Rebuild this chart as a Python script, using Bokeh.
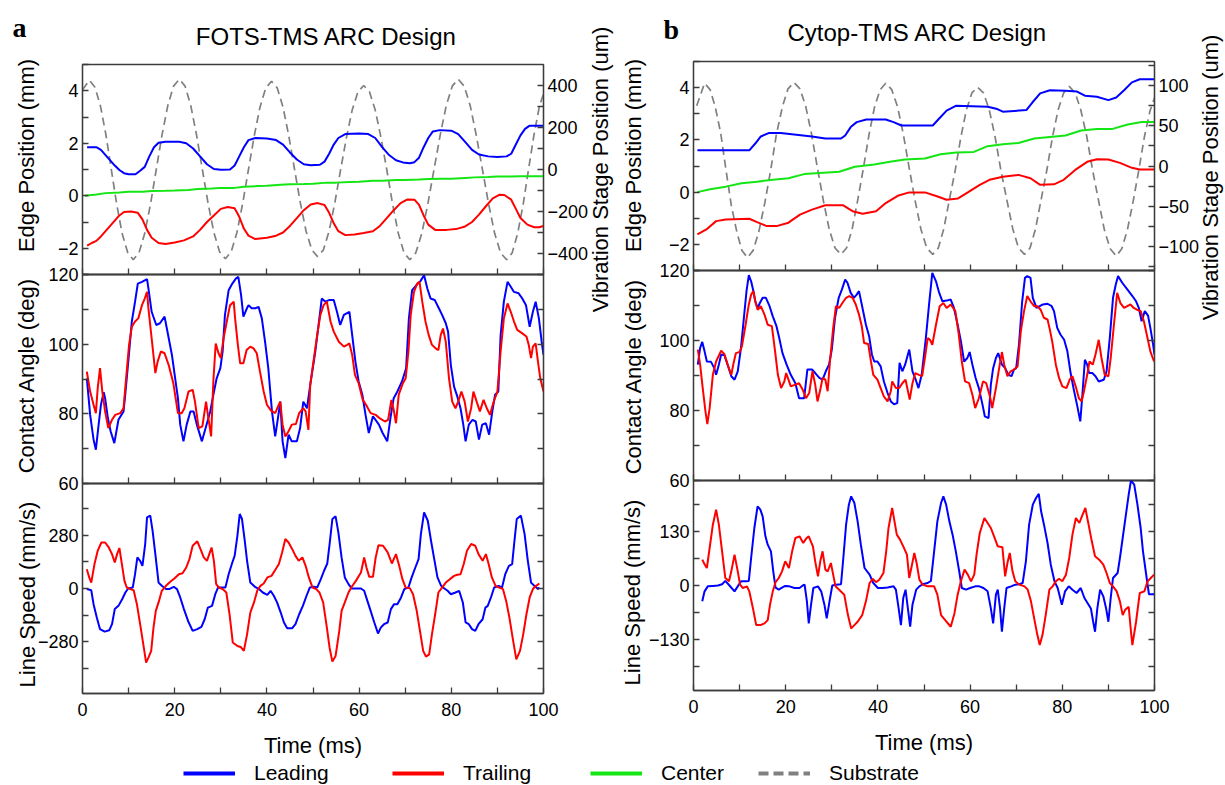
from bokeh.plotting import figure
from bokeh.models import Range1d, LinearAxis, FixedTicker, Label, Legend, LegendItem
from bokeh.layouts import row, column
from bokeh.embed import file_html
from bokeh.resources import INLINE

# ---------------- data ----------------
# Panel a, top: edge positions (mm) and substrate position (um)
a_lead_t = [1, 3, 4, 5, 6, 7, 8, 9, 10, 11.5, 12.5, 13.5, 14.5, 15.5, 16.5, 18, 21, 22.5, 24, 25.5, 27, 28.5, 30, 32, 33, 34, 35, 36, 37.5, 40, 42, 43.5, 45, 46.5, 48, 49.5, 51.5, 52.5, 53.5, 54.5, 55.5, 57, 60, 62, 63.5, 65, 66.5, 68, 69.5, 71, 72, 73, 74, 75, 76, 77.5, 80, 81.5, 83, 84.5, 86, 88, 90, 92, 93, 94, 95, 96, 97, 100]
a_lead_v = [1.85, 1.85, 1.75, 1.55, 1.35, 1.15, 0.98, 0.86, 0.82, 0.82, 0.95, 1.1, 1.5, 1.85, 2.02, 2.06, 2.06, 2.0, 1.8, 1.5, 1.2, 1.02, 0.99, 1.0, 1.15, 1.5, 1.85, 2.12, 2.2, 2.18, 2.12, 1.95, 1.65, 1.38, 1.2, 1.16, 1.18, 1.3, 1.6, 1.95, 2.2, 2.35, 2.37, 2.35, 2.2, 1.85, 1.55, 1.35, 1.27, 1.24, 1.28, 1.45, 1.85, 2.2, 2.45, 2.5, 2.48, 2.35, 2.05, 1.75, 1.57, 1.5, 1.48, 1.5, 1.6, 1.95, 2.3, 2.55, 2.67, 2.67]
a_trail_t = [1, 2, 3, 4, 5, 6, 7, 8, 9, 10.5, 12, 13, 14, 15, 16.5, 18, 20, 22, 24, 25.5, 27, 28.5, 30, 31.5, 33, 34, 35, 36, 37.5, 40, 42, 43.5, 45, 46.5, 48, 49.5, 51, 52.5, 53.5, 54.5, 55.5, 57, 59, 61, 63, 64.5, 66, 67.5, 69, 70.5, 72, 73, 74, 75, 76.5, 79, 81, 83, 84.5, 86, 87.5, 89, 90.5, 91.5, 93, 94, 95, 96.5, 98, 99, 100]
a_trail_v = [-1.9, -1.8, -1.72, -1.55, -1.35, -1.15, -0.95, -0.75, -0.62, -0.6, -0.65, -0.9, -1.3, -1.6, -1.8, -1.84, -1.78, -1.7, -1.55, -1.3, -1.0, -0.75, -0.5, -0.43, -0.48, -0.8, -1.25, -1.52, -1.65, -1.6, -1.52, -1.4, -1.15, -0.85, -0.55, -0.33, -0.28, -0.35, -0.65, -1.05, -1.35, -1.5, -1.48, -1.42, -1.35, -1.15, -0.85, -0.55, -0.28, -0.14, -0.15, -0.35, -0.75, -1.1, -1.3, -1.3, -1.27, -1.17, -1.0, -0.72, -0.4, -0.1, 0.04, 0.03, -0.15, -0.5, -0.85, -1.1, -1.2, -1.2, -1.15]
a_center_t = [0.5, 3, 5, 8, 10, 13, 15, 18, 20, 23, 25, 28, 30, 33, 35, 38, 40, 43, 45, 48, 50, 53, 55, 58, 60, 63, 65, 68, 70, 73, 75, 78, 80, 83, 85, 88, 90, 93, 95, 98, 100]
a_center_v = [0.0, 0.05, 0.1, 0.12, 0.15, 0.15, 0.18, 0.19, 0.2, 0.22, 0.26, 0.28, 0.3, 0.3, 0.34, 0.37, 0.38, 0.42, 0.44, 0.45, 0.46, 0.5, 0.5, 0.52, 0.53, 0.57, 0.57, 0.6, 0.6, 0.62, 0.64, 0.65, 0.65, 0.68, 0.7, 0.71, 0.73, 0.73, 0.74, 0.74, 0.74]
a_sub_t = [0, 1.5, 2.7, 3.9, 5.1, 6.25, 7.4, 8.6, 9.8, 11, 12.25, 13.5, 14.75, 16, 17.25, 18.5, 19.75, 21, 22.25, 23.5, 24.75, 26, 27.25, 28.5, 29.75, 31, 32.25, 33.5, 34.75, 36, 37.25, 38.5, 39.75, 41, 42.25, 43.5, 44.75, 46, 47.25, 48.5, 49.75, 51, 52.25, 53.5, 54.75, 56, 57.25, 58.5, 59.75, 61, 62.25, 63.5, 64.75, 66, 67.25, 68.5, 69.75, 71, 72.3, 73.6, 74.9, 76.25, 77.6, 78.9, 80.2, 81.5, 82.8, 84.1, 85.4, 86.75, 88.1, 89.4, 90.7, 92, 93.2, 94.4, 95.6, 96.75, 97.9, 99.1, 100]
a_sub_v = [380, 425, 392, 302, 163, 0, -163, -305, -395, -430, -397, -304, -165, 0, 165, 304, 397, 430, 397, 303, 163, 0, -162, -300, -393, -425, -392, -300, -161, 0, 160, 297, 388, 420, 388, 297, 160, 0, -158, -294, -383, -415, -383, -293, -157, 0, 152, 283, 370, 400, 370, 283, 152, 0, -163, -304, -397, -430, -397, -304, -165, 0, 165, 304, 397, 430, 397, 304, 165, 0, -165, -304, -397, -430, -397, -304, -165, 0, 160, 300, 360]

# Panel a, middle: contact angle (deg)
a_ca_lead_t = [0.94, 1.66, 2.4, 2.9, 3.5, 4.0, 4.6, 4.9, 5.5, 6.1, 6.9, 7.8, 8.9, 9.3, 10.0, 10.7, 11.4, 12.0, 12.9, 14.0, 14.3, 15.0, 16.0, 16.8, 17.8, 18.3, 19.4, 20.1, 20.7, 21.2, 21.9, 22.6, 23.4, 24.1, 24.8, 25.9, 27.0, 27.7, 28.4, 29.1, 29.9, 30.4, 30.9, 31.7, 32.5, 33.3, 33.8, 34.4, 34.9, 35.5, 36.0, 36.7, 37.5, 38.2, 38.9, 39.6, 40.3, 41.1, 41.8, 42.4, 42.9, 43.4, 44.0, 44.7, 45.4, 46.5, 47.2, 47.9, 48.7, 49.4, 50.5, 51.2, 51.9, 52.7, 53.6, 54.5, 55.2, 55.9, 56.7, 57.9, 58.5, 59.2, 59.9, 60.7, 61.4, 62.1, 63.0, 64.3, 65.1, 66.1, 66.8, 67.5, 68.3, 69.3, 70.2, 70.8, 71.5, 72.4, 73.3, 74.1, 74.8, 75.5, 76.4, 77.3, 78.0, 78.8, 79.3, 79.9, 80.6, 81.3, 82.0, 82.6, 83.1, 83.8, 84.6, 85.3, 86.0, 86.7, 87.5, 88.2, 88.9, 89.5, 90.2, 90.7, 91.4, 92.2, 92.9, 93.6, 94.6, 95.4, 96.2, 97.0, 97.7, 98.3, 99.0, 99.6, 100.0]
a_ca_lead_v = [90.2, 79.7, 72.6, 69.7, 76.9, 82.6, 86.2, 84.5, 78.8, 75.0, 71.6, 78.3, 80.7, 85.9, 96.0, 106.5, 112.2, 117.4, 117.9, 118.7, 116.0, 109.3, 105.5, 106.0, 107.9, 104.5, 96.9, 90.2, 84.5, 76.9, 72.1, 76.9, 80.7, 80.7, 76.9, 72.1, 77.3, 80.7, 85.5, 90.2, 93.1, 97.9, 108.4, 115.5, 117.4, 118.9, 119.3, 114.1, 107.9, 109.8, 111.2, 110.3, 110.3, 110.7, 107.4, 100.7, 93.1, 80.7, 73.5, 78.8, 83.5, 72.1, 67.3, 74.0, 72.1, 72.1, 75.9, 83.5, 81.6, 88.3, 97.9, 105.5, 113.1, 112.2, 112.7, 112.7, 109.3, 105.5, 108.4, 109.3, 102.6, 95.0, 89.3, 85.5, 79.7, 74.5, 79.3, 76.9, 74.5, 72.1, 78.8, 84.5, 86.4, 89.3, 93.1, 107.4, 115.5, 116.9, 118.1, 119.8, 116.0, 113.1, 112.7, 110.3, 108.4, 106.0, 103.6, 94.0, 87.8, 85.0, 81.6, 76.9, 72.1, 76.9, 78.3, 77.8, 72.6, 76.9, 77.3, 74.0, 80.7, 85.5, 86.4, 102.6, 112.2, 117.9, 116.5, 115.0, 114.6, 113.1, 111.2, 105.0, 109.3, 112.2, 107.4, 100.7, 96.9]
a_ca_trail_t = [0.94, 1.66, 2.4, 2.9, 3.3, 3.8, 4.3, 4.9, 5.6, 6.4, 7.1, 8.2, 8.9, 9.4, 10.1, 10.7, 11.4, 12.1, 12.9, 13.5, 14.0, 14.3, 15.0, 15.8, 16.3, 17.0, 17.8, 18.7, 19.7, 20.7, 21.5, 22.1, 23.0, 23.9, 24.4, 25.2, 26.0, 26.8, 27.2, 27.9, 28.4, 28.9, 29.5, 30.0, 30.6, 31.3, 32.0, 32.8, 33.1, 33.7, 34.2, 34.9, 35.6, 36.4, 37.1, 37.8, 38.5, 39.3, 40.0, 40.9, 41.8, 42.4, 42.9, 43.4, 44.0, 44.7, 45.4, 46.3, 47.0, 47.9, 48.4, 49.0, 49.4, 50.1, 50.9, 51.6, 52.3, 53.0, 53.8, 54.5, 55.6, 56.7, 57.4, 57.9, 58.5, 59.1, 59.9, 60.8, 61.5, 62.5, 63.6, 64.6, 65.6, 66.3, 67.0, 67.5, 68.0, 68.6, 69.5, 70.1, 70.7, 71.2, 71.9, 72.6, 73.1, 73.7, 74.4, 75.1, 75.8, 76.6, 77.2, 77.7, 78.2, 78.8, 79.5, 80.2, 80.9, 81.5, 82.2, 82.9, 83.6, 84.3, 84.8, 85.5, 86.2, 87.0, 87.7, 88.4, 89.1, 90.0, 90.7, 91.4, 92.2, 92.9, 93.6, 94.3, 95.4, 96.3, 96.8, 97.3, 97.7, 98.3, 98.8, 99.3, 100.0]
a_ca_trail_v = [92.1, 86.4, 82.6, 80.2, 87.4, 93.1, 86.4, 80.7, 75.9, 78.3, 79.7, 80.2, 81.6, 89.3, 99.8, 105.0, 106.5, 107.4, 111.2, 113.1, 115.0, 110.3, 101.7, 91.7, 95.0, 97.9, 97.4, 94.0, 88.8, 80.2, 80.2, 81.6, 86.4, 86.9, 83.5, 75.9, 76.4, 83.5, 79.7, 73.5, 89.8, 100.2, 97.4, 96.0, 101.7, 106.5, 111.2, 112.2, 107.4, 99.8, 94.5, 94.5, 98.3, 99.3, 98.8, 97.4, 92.1, 86.4, 82.6, 80.9, 80.2, 82.1, 83.5, 76.9, 73.5, 75.0, 76.9, 77.1, 80.2, 81.6, 80.7, 75.4, 88.3, 95.0, 102.6, 108.4, 111.2, 112.2, 106.5, 103.6, 100.7, 99.3, 99.8, 100.2, 96.9, 91.2, 88.8, 84.0, 82.6, 80.2, 79.7, 78.6, 77.8, 78.3, 84.0, 81.2, 77.3, 85.5, 88.8, 90.2, 97.9, 108.4, 115.0, 117.4, 117.9, 112.2, 106.5, 102.6, 99.8, 98.8, 98.3, 102.6, 104.5, 100.7, 90.2, 83.5, 81.6, 83.5, 86.4, 83.5, 77.8, 81.6, 86.4, 83.5, 80.7, 84.0, 81.6, 79.7, 83.1, 86.4, 97.9, 107.4, 111.7, 109.3, 106.5, 104.1, 103.1, 102.2, 99.8, 96.0, 99.3, 100.2, 95.0, 90.2, 86.4]

# Panel a, bottom: line speed (mm/s)
a_ls_lead_t = [0.94, 1.9, 2.4, 3.1, 3.8, 4.8, 5.8, 6.4, 7.0, 7.8, 8.6, 9.3, 9.9, 10.9, 11.4, 11.9, 12.5, 13.0, 13.6, 14.0, 14.7, 15.2, 15.8, 16.5, 17.2, 18.1, 18.8, 19.8, 20.5, 21.2, 22.0, 22.9, 23.9, 24.9, 25.8, 26.5, 27.2, 28.1, 28.8, 29.4, 30.1, 31.0, 31.7, 32.5, 33.0, 33.6, 34.1, 34.6, 35.2, 35.7, 36.4, 37.4, 38.3, 39.1, 40.1, 40.8, 41.5, 42.2, 43.0, 43.7, 44.4, 45.5, 46.2, 47.0, 47.8, 48.6, 49.3, 50.2, 50.9, 51.7, 52.4, 53.1, 53.6, 54.2, 54.9, 55.5, 56.2, 56.9, 57.7, 58.4, 59.3, 60.4, 61.1, 61.8, 62.5, 63.3, 64.1, 64.7, 65.4, 66.2, 66.9, 67.6, 68.3, 69.1, 69.8, 70.7, 71.4, 72.2, 72.9, 73.4, 74.1, 74.9, 75.6, 76.3, 77.0, 77.8, 78.5, 79.2, 79.9, 80.9, 81.7, 82.5, 83.1, 83.8, 84.5, 85.2, 85.9, 86.8, 87.4, 87.9, 88.6, 89.3, 90.3, 91.0, 91.7, 92.5, 93.2, 93.7, 94.2, 95.1, 95.9, 96.6, 97.3, 98.0, 98.8, 99.1]
a_ls_lead_v = [-3, -9, -82, -152, -213, -226, -219, -187, -108, -91, -56, -21, 0, 5, 75, 163, 145, 119, 233, 373, 382, 303, 180, 31, 14, -3, -3, 9, -3, -47, -108, -170, -222, -213, -201, -161, -100, -91, -30, 5, 5, 5, 75, 136, 171, 276, 390, 364, 250, 145, 31, 9, -3, -21, -33, -12, -38, -73, -126, -178, -208, -208, -187, -135, -91, -38, 5, 9, 5, 49, 93, 131, 233, 364, 378, 294, 163, 58, 23, 0, 0, 0, -12, -65, -117, -178, -236, -205, -187, -178, -108, -82, -82, -47, -3, 5, 58, 110, 154, 285, 399, 355, 250, 154, 58, 14, 0, -12, -30, -21, -12, -73, -178, -187, -213, -222, -187, -161, -100, -91, -47, 5, 14, 5, 75, 119, 128, 250, 364, 382, 285, 145, 31, 14, -3, 5]
a_ls_trail_t = [0.94, 1.45, 1.9, 2.6, 3.3, 4.1, 4.9, 5.7, 6.4, 7.0, 7.5, 8.0, 8.6, 9.1, 9.6, 10.4, 11.1, 11.8, 12.5, 13.3, 13.8, 14.3, 14.9, 15.4, 15.9, 16.5, 17.2, 18.1, 19.1, 20.0, 20.9, 21.7, 22.5, 23.2, 23.9, 24.9, 25.6, 26.3, 27.0, 27.5, 28.0, 28.5, 29.0, 29.6, 30.4, 31.2, 31.9, 32.6, 33.6, 34.3, 35.0, 35.7, 36.4, 37.2, 37.9, 38.6, 39.3, 40.1, 41.0, 41.9, 42.6, 43.3, 44.0, 44.7, 45.5, 46.2, 46.9, 47.7, 48.4, 49.1, 49.9, 50.7, 51.4, 52.2, 52.9, 53.6, 54.2, 54.9, 55.7, 56.2, 56.9, 57.7, 58.4, 59.3, 60.4, 61.1, 61.6, 62.2, 63.0, 63.6, 64.2, 65.2, 66.2, 67.1, 68.0, 68.7, 69.4, 70.1, 71.0, 71.7, 72.5, 73.2, 73.9, 74.5, 75.2, 75.8, 76.5, 77.2, 78.0, 78.8, 79.7, 80.6, 81.3, 82.0, 82.7, 83.4, 84.3, 85.2, 85.9, 86.8, 87.5, 88.1, 88.8, 89.6, 90.4, 91.2, 91.9, 92.6, 93.3, 94.1, 94.9, 95.6, 96.3, 97.0, 97.7, 98.4, 99.1]
a_ls_trail_v = [101, 58, 31, 128, 198, 241, 241, 215, 180, 136, 180, 212, 119, 40, 5, -3, -9, -82, -187, -310, -388, -362, -327, -205, -117, -73, -12, 14, 37, 54, 75, 80, 110, 154, 224, 247, 206, 163, 145, 180, 215, 145, 23, 5, -3, -21, -135, -283, -301, -306, -327, -240, -126, -73, -12, 14, 26, 58, 66, 101, 128, 189, 259, 241, 206, 171, 145, 163, 119, 58, 5, -3, -21, -73, -187, -310, -383, -353, -222, -117, -73, -21, 9, 40, 84, 163, 110, 61, 61, 163, 227, 224, 189, 131, 180, 119, 49, 5, 2, -30, -117, -222, -327, -357, -345, -240, -135, -21, 5, 31, 49, 66, 72, 75, 128, 198, 233, 224, 180, 145, 180, 128, 58, 14, 5, -3, -65, -152, -257, -371, -327, -240, -135, -47, -3, 14, 26]

# Panel b, top
b_lead_t = [0.85, 12.1, 13.4, 14.6, 16.3, 18.9, 22.3, 25.7, 28.6, 32.0, 32.9, 34.1, 35.4, 37.5, 41.7, 43.4, 45.1, 51.9, 53.2, 54.9, 57.0, 63.8, 65.9, 67.1, 72.2, 73.5, 75.2, 77.3, 80.7, 83.2, 84.9, 87.5, 90.0, 91.7, 93.4, 95.1, 96.8, 100]
b_lead_v = [1.6, 1.6, 1.86, 2.13, 2.26, 2.26, 2.2, 2.13, 2.05, 2.05, 2.17, 2.49, 2.68, 2.78, 2.78, 2.68, 2.55, 2.55, 2.8, 3.12, 3.31, 3.27, 3.18, 3.08, 3.14, 3.43, 3.78, 3.9, 3.88, 3.85, 3.69, 3.65, 3.52, 3.62, 3.9, 4.2, 4.32, 4.32]
b_trail_t = [0.85, 2.8, 4.9, 7.0, 12.1, 13.8, 15.9, 18.0, 20.6, 23.1, 25.7, 28.6, 32.4, 34.5, 36.7, 39.6, 41.7, 44.3, 46.8, 50.2, 52.8, 54.9, 57.4, 59.5, 62.1, 64.2, 67.1, 70.5, 73.1, 75.2, 78.2, 80.3, 82.8, 85.4, 87.5, 90.0, 92.5, 95.1, 96.8, 100]
b_trail_v = [-1.62, -1.43, -1.11, -1.05, -1.02, -1.15, -1.3, -1.3, -1.17, -0.86, -0.67, -0.5, -0.5, -0.73, -0.83, -0.73, -0.42, -0.14, -0.01, -0.01, -0.16, -0.29, -0.24, -0.01, 0.28, 0.47, 0.59, 0.66, 0.53, 0.28, 0.3, 0.47, 0.85, 1.16, 1.26, 1.25, 1.12, 0.93, 0.87, 0.87]
b_center_t = [0.85, 3.6, 7.0, 10.4, 13.8, 17.2, 20.6, 24.0, 28.2, 31.6, 35.0, 39.2, 42.6, 45.9, 50.2, 53.6, 57.0, 60.8, 63.8, 67.1, 70.5, 73.9, 77.3, 80.7, 84.1, 87.5, 90.9, 94.2, 97.2, 100]
b_center_v = [0.0, 0.11, 0.21, 0.34, 0.4, 0.47, 0.53, 0.69, 0.74, 0.78, 0.97, 1.06, 1.16, 1.25, 1.29, 1.45, 1.52, 1.54, 1.76, 1.83, 1.88, 2.05, 2.11, 2.17, 2.36, 2.42, 2.42, 2.59, 2.68, 2.68]
b_sub_t = [0.7, 2.4, 3.6, 4.7, 5.9, 7.05, 8.2, 9.4, 10.5, 11.7, 12.95, 14.2, 15.5, 16.75, 18.0, 19.3, 20.5, 21.8, 23.1, 24.35, 25.6, 26.9, 28.2, 29.45, 30.7, 32.0, 33.2, 34.4, 35.6, 36.85, 38.1, 39.3, 40.5, 41.7, 43.0, 44.25, 45.5, 46.8, 48.1, 49.35, 50.6, 51.9, 53.1, 54.3, 55.5, 56.75, 58.0, 59.2, 60.4, 61.6, 62.9, 64.15, 65.4, 66.7, 68.0, 69.25, 70.5, 71.8, 73.0, 74.2, 75.4, 76.65, 77.9, 79.1, 80.3, 81.5, 82.8, 84.0, 85.3, 86.6, 87.9, 89.15, 90.4, 91.7, 92.9, 94.1, 95.4, 96.6, 97.8, 99.0, 100]
b_sub_v = [75, 103, 95, 74, 41, -5, -49, -82, -105, -114, -105, -81, -45, -5, 40, 74, 96, 104, 96, 74, 40, -3, -44, -79, -102, -110, -102, -79, -43, -3, 40, 74, 95, 103, 95, 74, 40, -3, -44, -79, -102, -110, -102, -78, -42, -6, 36, 70, 91, 98, 91, 70, 37, -6, -43, -78, -102, -110, -102, -78, -42, -5, 37, 70, 91, 99, 91, 70, 37, -6, -44, -80, -103, -112, -103, -80, -43, -5, 36, 68, 85]

# Panel b, middle
b_ca_lead_t = [0.94, 1.44, 1.9, 2.4, 2.9, 3.8, 4.5, 4.9, 5.5, 6.0, 6.7, 7.4, 8.2, 8.9, 9.6, 10.3, 11.0, 11.5, 12.0, 12.5, 13.0, 13.4, 13.9, 14.4, 15.0, 15.7, 16.5, 17.2, 18.0, 18.6, 19.3, 20.2, 21.1, 22.1, 22.9, 24.0, 24.7, 25.7, 26.4, 27.3, 28.0, 28.7, 29.4, 30.0, 30.7, 31.5, 32.2, 32.9, 33.4, 34.1, 34.8, 35.4, 35.9, 36.5, 37.4, 38.1, 38.7, 39.2, 39.9, 40.6, 41.3, 42.1, 42.8, 43.5, 44.2, 44.7, 45.3, 45.9, 46.8, 47.5, 48.2, 48.8, 49.5, 50.4, 51.1, 51.8, 52.6, 53.3, 54.0, 54.9, 55.8, 56.5, 57.3, 58.0, 58.7, 59.4, 59.9, 60.5, 61.2, 61.9, 62.7, 63.2, 64.0, 64.5, 65.0, 65.6, 66.1, 66.9, 67.6, 68.3, 69.0, 69.5, 70.0, 70.6, 71.3, 71.9, 72.4, 73.1, 73.6, 74.4, 75.1, 75.8, 76.8, 77.7, 78.2, 78.9, 79.6, 80.4, 81.1, 81.8, 82.5, 83.2, 83.9, 84.3, 84.9, 85.4, 85.8, 86.5, 87.2, 87.9, 89.0, 89.6, 90.3, 91.0, 91.6, 92.1, 93.0, 94.1, 95.2, 96.0, 96.6, 97.2, 97.9, 98.6, 99.1, 99.7, 100.0]
b_ca_lead_v = [93.1, 97.9, 99.6, 96.9, 94.0, 93.9, 92.1, 90.2, 93.1, 96.0, 95.8, 93.1, 89.8, 88.8, 91.2, 97.9, 107.4, 114.1, 118.7, 116.9, 114.1, 111.2, 109.3, 110.7, 112.2, 112.2, 109.8, 106.9, 104.1, 100.7, 96.4, 93.1, 90.2, 87.8, 83.5, 83.5, 91.7, 91.7, 90.7, 89.3, 88.8, 91.2, 93.1, 97.4, 106.5, 112.2, 114.6, 117.4, 116.5, 113.6, 112.2, 113.1, 114.1, 110.3, 104.5, 101.2, 96.0, 94.0, 94.0, 92.6, 88.3, 85.0, 82.6, 81.8, 82.1, 93.6, 91.2, 93.1, 97.4, 91.2, 88.8, 86.4, 90.2, 100.7, 110.3, 119.3, 116.9, 113.6, 111.2, 111.4, 111.7, 109.3, 104.5, 99.8, 94.0, 95.0, 96.7, 93.1, 89.3, 86.4, 81.6, 78.3, 77.8, 87.4, 92.1, 95.0, 96.4, 93.1, 92.1, 90.2, 89.8, 91.7, 92.1, 98.8, 111.2, 117.9, 118.4, 117.9, 112.2, 109.3, 109.8, 110.3, 110.5, 109.8, 108.4, 103.6, 101.7, 100.2, 96.9, 90.7, 85.9, 81.6, 76.9, 83.5, 94.5, 93.1, 90.7, 90.7, 89.8, 88.3, 88.8, 91.2, 100.7, 112.2, 116.0, 118.4, 116.5, 114.6, 112.7, 111.2, 109.3, 105.5, 108.4, 107.1, 103.6, 98.8, 96.0]
b_ca_trail_t = [0.94, 1.44, 2.0, 2.6, 3.0, 3.5, 4.2, 4.9, 6.0, 6.7, 7.4, 8.2, 8.7, 9.2, 10.0, 10.5, 11.3, 12.0, 12.5, 13.0, 13.4, 13.9, 14.6, 15.4, 16.1, 17.0, 17.7, 18.3, 19.0, 19.7, 20.1, 20.6, 21.1, 22.1, 22.9, 23.7, 24.4, 25.1, 25.8, 26.4, 26.9, 27.5, 28.0, 28.6, 29.1, 29.6, 30.3, 30.9, 31.6, 32.3, 33.1, 33.8, 34.5, 35.2, 35.9, 36.5, 37.0, 37.9, 38.5, 39.0, 39.9, 40.6, 41.3, 42.1, 42.8, 43.1, 43.9, 44.6, 45.3, 46.0, 46.9, 47.5, 48.1, 48.9, 49.6, 50.3, 50.8, 51.3, 51.8, 52.6, 53.4, 54.2, 54.9, 55.8, 56.8, 57.5, 58.2, 58.9, 59.8, 60.5, 61.1, 61.9, 62.8, 63.5, 64.3, 64.8, 65.6, 66.3, 66.9, 67.4, 68.1, 68.8, 69.5, 70.3, 71.0, 71.7, 72.4, 73.1, 73.9, 74.6, 75.3, 76.0, 76.8, 77.3, 77.8, 78.6, 79.3, 80.0, 80.9, 81.6, 82.2, 82.9, 83.6, 84.2, 84.7, 85.4, 85.9, 86.6, 87.2, 87.9, 88.5, 89.2, 90.0, 90.5, 91.2, 91.9, 92.6, 93.4, 94.1, 94.8, 95.5, 96.2, 97.0, 97.7, 98.4, 99.1, 99.9]
b_ca_trail_v = [97.4, 93.1, 86.4, 79.7, 76.1, 80.7, 90.2, 94.0, 97.1, 96.1, 93.1, 90.2, 93.6, 96.4, 96.7, 98.3, 104.5, 110.3, 113.1, 114.1, 111.2, 108.8, 109.8, 107.4, 104.5, 104.1, 96.9, 90.2, 86.4, 88.3, 90.7, 88.8, 86.9, 87.4, 87.8, 85.9, 83.5, 85.0, 91.2, 87.4, 82.6, 85.9, 89.3, 88.8, 85.5, 94.0, 103.6, 109.8, 109.3, 110.7, 112.2, 112.7, 112.2, 110.3, 107.4, 104.1, 99.3, 99.0, 94.0, 90.2, 88.8, 86.4, 84.0, 82.6, 85.5, 88.3, 86.4, 86.4, 87.8, 88.8, 83.1, 87.8, 90.7, 90.2, 89.8, 96.0, 100.7, 100.2, 98.8, 104.5, 109.8, 110.7, 109.3, 110.3, 108.4, 102.2, 94.0, 88.3, 87.8, 84.5, 80.7, 83.5, 88.3, 87.8, 84.0, 80.7, 86.4, 92.1, 96.7, 93.1, 89.8, 91.2, 91.7, 92.6, 102.6, 108.4, 112.7, 111.2, 109.8, 109.8, 108.8, 106.5, 106.0, 103.1, 99.8, 93.1, 89.3, 86.9, 86.4, 88.8, 89.8, 86.9, 83.5, 82.6, 85.5, 90.2, 94.0, 93.1, 96.0, 100.2, 95.0, 90.2, 89.8, 95.0, 104.5, 113.6, 110.7, 109.3, 109.8, 110.3, 109.3, 108.8, 108.4, 105.5, 101.2, 96.9, 94.0]

# Panel b, bottom
b_ls_lead_t = [1.9, 2.4, 3.1, 4.2, 5.3, 6.2, 6.9, 7.8, 8.9, 9.6, 10.3, 11.4, 12.0, 12.5, 13.2, 13.9, 14.5, 15.0, 15.6, 16.1, 16.8, 17.3, 17.8, 18.5, 19.2, 19.9, 20.8, 21.9, 23.0, 23.7, 24.1, 24.6, 25.0, 25.5, 26.0, 27.0, 27.7, 28.4, 28.9, 29.5, 30.1, 30.9, 32.0, 32.5, 33.1, 33.7, 34.2, 34.9, 35.6, 36.3, 37.1, 38.2, 39.0, 40.0, 41.0, 42.1, 43.4, 43.9, 44.5, 45.0, 45.5, 46.0, 46.5, 47.0, 47.5, 48.3, 49.0, 49.7, 50.8, 51.5, 52.2, 52.9, 53.7, 54.2, 54.8, 55.5, 56.2, 56.9, 57.7, 58.2, 59.1, 60.0, 61.1, 62.0, 62.9, 63.8, 64.5, 65.0, 65.6, 66.0, 66.5, 66.9, 67.4, 67.9, 68.9, 69.8, 70.7, 71.4, 72.1, 72.8, 73.6, 74.3, 74.9, 75.4, 76.1, 76.8, 77.5, 78.3, 79.0, 79.9, 80.6, 81.4, 82.2, 83.1, 84.0, 84.8, 85.7, 86.2, 86.7, 87.1, 87.6, 88.2, 88.9, 89.5, 90.0, 90.5, 91.0, 92.0, 92.5, 93.1, 93.8, 94.4, 94.9, 95.6, 96.3, 97.0, 97.5, 98.3, 98.8, 99.9]
b_ls_lead_v = [-38, -14, -2, -1, 0, 3, 11, 0, -14, -2, 10, 10, 11, 66, 138, 190, 182, 166, 118, 98, 82, 34, -5, -10, -5, -1, -2, -6, -6, 0, 2, -38, -91, -46, -6, -2, -14, -46, -79, -38, 0, 2, 3, 66, 146, 194, 214, 198, 154, 98, 42, 26, 6, -6, -6, -5, -2, -10, -55, -95, -30, -10, -55, -99, -46, -10, -2, 3, 6, 11, 82, 154, 198, 214, 194, 154, 122, 82, 30, -6, -10, -6, -2, -2, -6, -14, -55, -91, -22, -10, -55, -111, -55, -6, -2, 2, 3, 6, 58, 146, 194, 210, 220, 178, 142, 102, 50, 10, -6, -46, -14, -2, -10, -18, -6, -30, -46, -55, -87, -111, -55, -10, -26, -55, -87, -30, 18, 30, 66, 114, 170, 218, 252, 242, 194, 138, 82, 18, -21, -21]
b_ls_trail_t = [1.9, 2.4, 2.9, 3.5, 4.2, 4.9, 5.5, 6.2, 6.9, 7.7, 8.2, 8.9, 9.6, 10.1, 10.7, 11.6, 12.1, 12.9, 13.6, 14.5, 15.4, 16.1, 16.6, 17.2, 17.8, 18.5, 19.2, 19.9, 20.7, 21.4, 22.1, 23.0, 23.8, 24.4, 25.0, 25.9, 26.4, 27.0, 27.5, 28.0, 28.6, 29.1, 29.8, 30.3, 30.8, 31.6, 32.7, 33.5, 34.2, 34.9, 35.6, 36.6, 37.4, 38.2, 38.9, 39.6, 40.3, 41.2, 41.8, 42.3, 43.1, 43.6, 44.1, 44.8, 45.5, 46.3, 46.8, 47.4, 47.9, 48.4, 49.0, 49.7, 50.8, 52.2, 52.9, 53.7, 54.6, 55.8, 56.6, 57.3, 58.0, 58.8, 59.5, 60.2, 60.9, 61.4, 62.1, 63.1, 63.8, 64.5, 65.2, 66.0, 67.0, 67.6, 68.1, 68.6, 69.2, 69.8, 70.7, 71.8, 72.5, 73.2, 73.9, 74.6, 75.1, 75.7, 76.4, 77.2, 77.9, 78.6, 79.3, 80.0, 80.8, 81.5, 82.2, 82.95, 83.7, 84.4, 85.0, 85.7, 86.4, 87.1, 88.0, 88.9, 89.6, 90.3, 91.0, 91.8, 92.5, 93.1, 93.6, 94.4, 94.9, 95.2, 96.0, 96.8, 97.8, 98.5, 99.2, 99.9]
b_ls_trail_v = [62, 51, 42, 90, 146, 182, 146, 82, 18, 10, 34, 74, 34, 2, -6, -2, -14, -55, -95, -95, -91, -83, -46, -14, 8, 18, 34, 58, 42, 82, 114, 118, 102, 112, 118, 94, 58, 22, 58, 82, 38, 34, 54, 26, -2, -10, -22, -71, -103, -95, -87, -71, -38, 6, 16, 8, 14, 30, 82, 138, 186, 154, 122, 110, 94, 74, 18, 50, 78, 54, 14, 2, -2, -2, -22, -71, -83, -99, -67, -22, 10, 38, 26, 10, 26, 74, 126, 162, 150, 138, 118, 94, 92, 22, 54, 78, 34, 10, 2, -2, -10, -38, -79, -119, -143, -119, -71, -10, -2, 10, 16, 10, 26, 66, 122, 162, 150, 170, 186, 146, 106, 70, 62, 50, 30, 6, -2, -14, -38, -71, -59, -51, -111, -143, -87, -18, -14, 10, 18, 26]

# ticks
x_ticks = [0, 20, 40, 60, 80, 100]
x_minor = [10, 30, 50, 70, 90]
edge_ticks, edge_minor = [-2, 0, 2, 4], [-3, -1, 1, 3, 5]
ca_ticks, ca_minor = [60, 80, 100, 120], [70, 90, 110]
a_ls_ticks, a_ls_minor = [-280, 0, 280], [-420, -140, 140, 420]
b_ls_ticks, b_ls_minor = [-130, 0, 130], [-195, -65, 65, 195]
a_sub_ticks, a_sub_minor = [-400, -200, 0, 200, 400], [-300, -100, 100, 300]
b_sub_ticks, b_sub_minor = [-100, -50, 0, 50, 100], [-125, -75, -25, 25, 75, 125]

# ---------------- styling ----------------
FONT = "Liberation Sans"
AXC = "#3c3c3c"
BLUE, RED, GREEN, GRAY = "#0000ff", "#ff0000", "#14e614", "#808080"
TICK_FS = "18px"
LAB_FS = "22px"


def style_axis(ax, ticks, minor, labels=True):
    ax.ticker = FixedTicker(ticks=ticks, minor_ticks=minor)
    ax.axis_line_color = AXC
    ax.axis_line_width = 1.3
    ax.major_tick_in = 6
    ax.major_tick_out = 0
    ax.minor_tick_in = 6
    ax.minor_tick_out = 0
    ax.major_tick_line_color = AXC
    ax.minor_tick_line_color = AXC
    ax.major_tick_line_width = 1.3
    ax.minor_tick_line_width = 1.3
    ax.major_label_text_font = FONT
    if labels:
        ax.major_label_text_font_size = TICK_FS
        ax.major_label_text_color = "black"
        ax.major_label_standoff = 4
    else:
        ax.major_label_text_font_size = "0px"
        ax.major_label_text_alpha = 0
        ax.major_label_standoff = 0


def make_panel(w, h, bl, br, bt, bb, yr, mt=0):
    p = figure(width=w, height=h, x_range=Range1d(0, 100), y_range=Range1d(*yr),
               output_backend="svg", toolbar_location=None, tools="",
               min_border_left=bl, min_border_right=br, min_border_top=bt, min_border_bottom=bb)
    p.grid.visible = False
    p.outline_line_color = AXC
    p.outline_line_width = 1.3
    p.background_fill_alpha = 0
    p.border_fill_alpha = 0
    if mt:
        p.margin = (mt, 0, 0, 0)
    return p


def bottom_xaxis(p):
    style_axis(p.xaxis[0], x_ticks, x_minor, labels=True)
    p.xaxis[0].major_label_standoff = 9
    p.xaxis[0].axis_label = "Time (ms)"
    p.xaxis[0].axis_label_text_font = FONT
    p.xaxis[0].axis_label_text_font_size = LAB_FS
    p.xaxis[0].axis_label_text_font_style = "normal"
    p.xaxis[0].axis_label_text_color = "black"
    p.xaxis[0].axis_label_standoff = 14


def mirror_right(p, ticks, minor):
    ax = LinearAxis()
    style_axis(ax, ticks, minor, labels=False)
    p.add_layout(ax, "right")


def edge_lines(p, lt, lv, tt, tv, ct, cv, st, sv):
    p.line(st, sv, y_range_name="sub", color=GRAY, line_width=1.7, line_dash="8 5")
    p.line(lt, lv, color=BLUE, line_width=2)
    p.line(tt, tv, color=RED, line_width=2)
    p.line(ct, cv, color=GREEN, line_width=2)


def blank_fig(w, h, flip=False, mt=0):
    yr = Range1d(h, 0) if flip else Range1d(0, h)
    p = figure(width=w, height=h, x_range=Range1d(0, w), y_range=yr,
               output_backend="svg", toolbar_location=None, tools="",
               x_axis_location=None, y_axis_location=None, min_border=0)
    p.grid.visible = False
    p.outline_line_color = None
    p.background_fill_alpha = 0
    p.border_fill_alpha = 0
    if mt:
        p.margin = (mt, 0, 0, 0)
    return p


# ---------------- column a ----------------
WA, BLA, BRA = 615, 82, 72
topA = make_panel(WA, 286, BLA, BRA, 64, 12, (-3, 5))
style_axis(topA.xaxis[0], x_ticks, x_minor, labels=False)
style_axis(topA.yaxis[0], edge_ticks, edge_minor)
topA.extra_y_ranges = {"sub": Range1d(-500, 500)}
axr = LinearAxis(y_range_name="sub")
style_axis(axr, a_sub_ticks, a_sub_minor)
topA.add_layout(axr, "right")
edge_lines(topA, a_lead_t, a_lead_v, a_trail_t, a_trail_v, a_center_t, a_center_v, a_sub_t, a_sub_v)

midA = make_panel(WA, 233, BLA, BRA, 12, 12, (60, 120), mt=-24)
style_axis(midA.xaxis[0], x_ticks, x_minor, labels=False)
style_axis(midA.yaxis[0], ca_ticks, ca_minor)
mirror_right(midA, ca_ticks, ca_minor)
midA.line(a_ca_lead_t, a_ca_lead_v, color=BLUE, line_width=2)
midA.line(a_ca_trail_t, a_ca_trail_v, color=RED, line_width=2)

botA = make_panel(WA, 289, BLA, BRA, 12, 67, (-550, 550), mt=-24)
bottom_xaxis(botA)
style_axis(botA.yaxis[0], a_ls_ticks, a_ls_minor)
mirror_right(botA, a_ls_ticks, a_ls_minor)
botA.line(a_ls_lead_t, a_ls_lead_v, color=BLUE, line_width=2)
botA.line(a_ls_trail_t, a_ls_trail_v, color=RED, line_width=2)

colA = column(topA, midA, botA)

# ---------------- column b ----------------
WB, BLB, BRB = 610, 78, 71
topB = make_panel(WB, 282, BLB, BRB, 61, 12, (-3, 5))
style_axis(topB.xaxis[0], x_ticks, x_minor, labels=False)
style_axis(topB.yaxis[0], edge_ticks, edge_minor)
topB.extra_y_ranges = {"sub": Range1d(-130, 130)}
axr = LinearAxis(y_range_name="sub")
style_axis(axr, b_sub_ticks, b_sub_minor)
topB.add_layout(axr, "right")
edge_lines(topB, b_lead_t, b_lead_v, b_trail_t, b_trail_v, b_center_t, b_center_v, b_sub_t, b_sub_v)

midB = make_panel(WB, 234, BLB, BRB, 12, 12, (60, 120), mt=-24)
style_axis(midB.xaxis[0], x_ticks, x_minor, labels=False)
style_axis(midB.yaxis[0], ca_ticks, ca_minor)
mirror_right(midB, ca_ticks, ca_minor)
midB.line(b_ca_lead_t, b_ca_lead_v, color=BLUE, line_width=2)
midB.line(b_ca_trail_t, b_ca_trail_v, color=RED, line_width=2)

botB = make_panel(WB, 292, BLB, BRB, 12, 70, (-252, 252), mt=-24)
bottom_xaxis(botB)
style_axis(botB.yaxis[0], b_ls_ticks, b_ls_minor)
mirror_right(botB, b_ls_ticks, b_ls_minor)
botB.line(b_ls_lead_t, b_ls_lead_v, color=BLUE, line_width=2)
botB.line(b_ls_trail_t, b_ls_trail_v, color=RED, line_width=2)

colB = column(topB, midB, botB)

# ---------------- text layer (titles, panel letters, axis titles) ----------------
over = blank_fig(1225, 760, flip=True, mt=-760)
# (text, x, y, size, angle, align, font, style) -- y is the vertical centre of the text
texts = [
    ("a", 12, 27, "28px", 0, "left", "Liberation Serif", "bold"),
    ("FOTS-TMS ARC Design", 326, 36, "24px", 0, "center", FONT, "normal"),
    ("b", 663, 29, "28px", 0, "left", "Liberation Serif", "bold"),
    ("Cytop-TMS ARC Design", 917, 32, "24px", 0, "center", FONT, "normal"),
    ("Edge Position (mm)", 26, 155, LAB_FS, 90, "center", FONT, "normal"),
    ("Contact Angle (deg)", 26, 375, LAB_FS, 90, "center", FONT, "normal"),
    ("Line Speed (mm/s)", 27, 594, LAB_FS, 90, "center", FONT, "normal"),
    ("Edge Position (mm)", 633, 155, LAB_FS, 90, "center", FONT, "normal"),
    ("Contact Angle (deg)", 633, 376, LAB_FS, 90, "center", FONT, "normal"),
    ("Line Speed (mm/s)", 632, 592, LAB_FS, 90, "center", FONT, "normal"),
    ("Vibration Stage Position (um)", 600, 169, LAB_FS, 90, "center", FONT, "normal"),
    ("Vibration Stage Position (um)", 1210, 177, LAB_FS, 90, "center", FONT, "normal"),
]
for txt, x, y, fs, ang, al, fnt, sty in texts:
    over.add_layout(Label(x=x, y=y, text=txt, angle=ang, angle_units="deg",
                          text_font=fnt, text_font_size=fs, text_font_style=sty,
                          text_color="black", text_align=al, text_baseline="middle"))

# ---------------- legend strip ----------------
leg = blank_fig(1225, 25)
hid_x, hid_y = [-20, -10], [-20, -20]   # outside the visible range; only feeds legend swatches
r_lead = leg.line(hid_x, hid_y, color=BLUE, line_width=4)
r_trail = leg.line(hid_x, hid_y, color=RED, line_width=4)
r_center = leg.line(hid_x, hid_y, color=GREEN, line_width=4)
r_sub = leg.line(hid_x, hid_y, color=GRAY, line_width=4, line_dash="10 5")
for x0, name, rend in [(183, "Leading", r_lead), (392, "Trailing", r_trail),
                       (590, "Center", r_center), (758, "Substrate", r_sub)]:
    lg = Legend(items=[LegendItem(label=name, renderers=[rend])], location=(x0, 0),
                orientation="horizontal", glyph_width=52, glyph_height=20,
                label_standoff=19, padding=0, margin=0, spacing=0,
                border_line_color=None, background_fill_alpha=0,
                label_text_font=FONT, label_text_font_size="21px",
                label_text_color="black", label_height=20)
    leg.add_layout(lg)

layout = column(row(colA, colB), over, leg)

open("out.html", "w").write(file_html(layout, INLINE, "ARC Design"))
